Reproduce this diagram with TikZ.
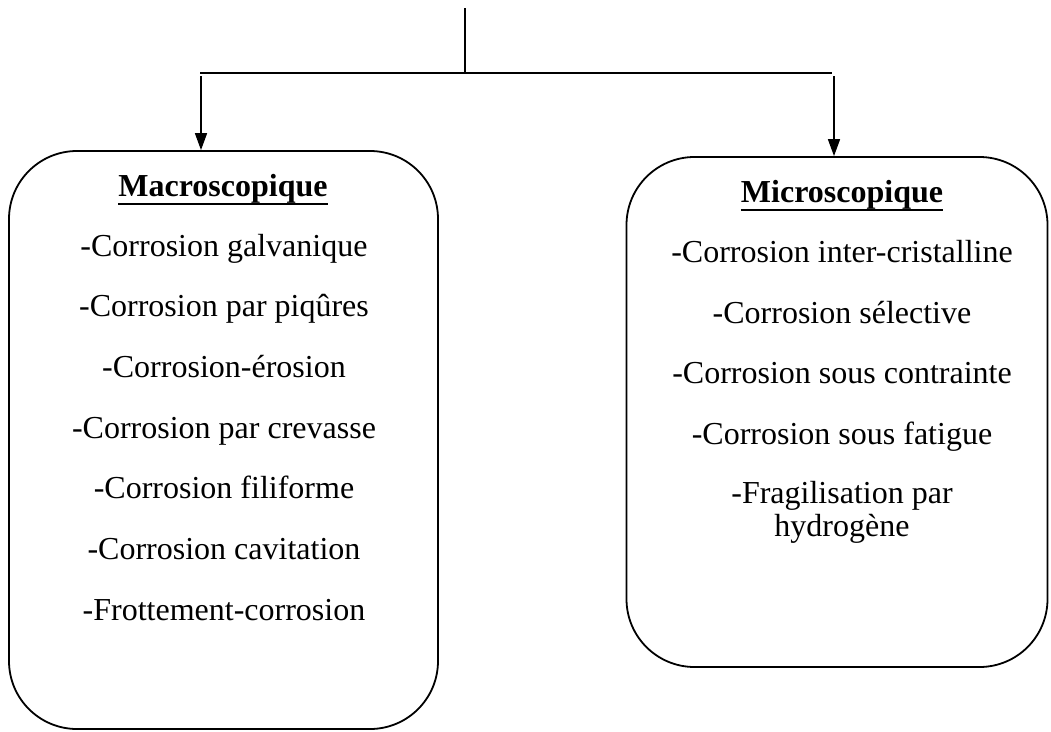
\documentclass[tikz,border=0pt]{standalone}
\usepackage{fontspec}
\setmainfont{Liberation Serif}
\usetikzlibrary{arrows.meta}
\begin{document}
\begin{tikzpicture}[x=1pt,y=1pt,
  box/.style={draw, line width=1.8pt, rounded corners=68pt, inner sep=0pt},
  item/.style={anchor=base, inner sep=0pt, font=\fontsize{32pt}{34pt}\selectfont},
  ttl/.style={item, font=\fontsize{32pt}{34pt}\selectfont\bfseries},
  conn/.style={line width=1.6pt},
  arr/.style={conn, -{Triangle[length=17pt,width=12pt]}},
  uline/.style={line width=2.4pt}]
\useasboundingbox (0,0) rectangle (1051,-731);
% boxes
\node[box, minimum width=429pt, minimum height=578pt] (macro) at (223.5,-440) {};
\node[box, minimum width=421pt, minimum height=510pt] (micro) at (837,-412) {};
% connectors
\coordinate (top) at (465,-8);
\coordinate (hub) at (465,-73);
\coordinate (jl) at (200,-73);
\coordinate (jr) at (832,-73);
\coordinate (jl2) at (201,-76);
\coordinate (jr2) at (834,-76);
\draw[conn] (top) -- (hub);
\draw[conn] (jl) -- (jr);
\draw[arr] (jl2) -- (jl2 |- macro.north);
\draw[arr] (jr2) -- (jr2 |- micro.north);
% left texts
\node[ttl] (ma) at (223,-196) {Macroscopique};
\draw[uline] ([yshift=-8pt]ma.base west) -- ([yshift=-8pt]ma.base east);
\node[item] (m1) at (224,-256) {-Corrosion galvanique};
\node[item] (m2) at (224,-316) {-Corrosion par piqûres};
\node[item] (m3) at (224,-377) {-Corrosion-érosion};
\node[item] (m4) at (224,-438) {-Corrosion par crevasse};
\node[item] (m5) at (224,-498) {-Corrosion filiforme};
\node[item] (m6) at (224,-559) {-Corrosion cavitation};
\node[item] (m7) at (224,-620) {-Frottement-corrosion};
% right texts
\node[ttl] (mi) at (842,-202) {Microscopique};
\draw[uline] ([yshift=-8pt]mi.base west) -- ([yshift=-8pt]mi.base east);
\node[item] (r1) at (842,-262) {-Corrosion inter-cristalline};
\node[item] (r2) at (842,-323) {-Corrosion sélective};
\node[item] (r3) at (842,-383) {-Corrosion sous contrainte};
\node[item] (r4) at (842,-444) {-Corrosion sous fatigue};
\node[item] (r5) at (842,-503) {-Fragilisation par};
\node[item] (r6) at (842,-536) {hydrogène};
\end{tikzpicture}
\end{document}
